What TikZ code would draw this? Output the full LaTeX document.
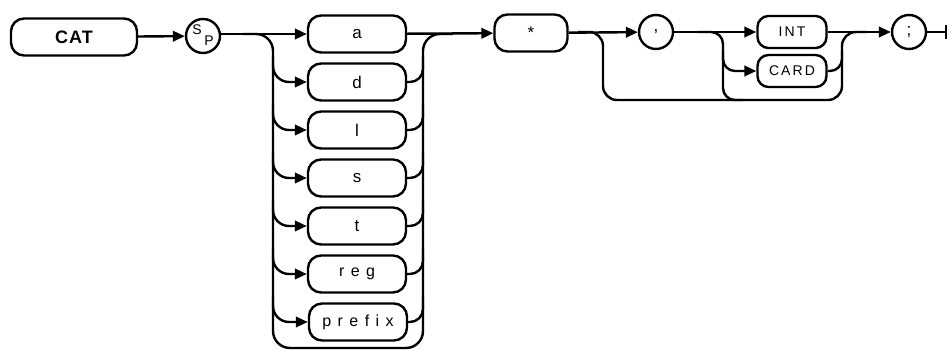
\documentclass[tikz,border=0pt]{standalone}
\usepackage{fontspec}
\setmainfont{Liberation Sans}
\usetikzlibrary{arrows.meta}
\begin{document}
\begin{tikzpicture}[x=1pt,y=-1pt,
  ln/.style={line width=2.4pt},
  arr/.style={ln,-{Triangle[length=12pt,width=10.5pt]}},
  term/.style={draw,ln,rounded corners=13pt,minimum width=98pt,minimum height=37pt,inner sep=0pt,font=\fontsize{17}{17}\selectfont},
  small/.style={draw,ln,rounded corners=11pt,minimum width=69pt,minimum height=32pt,inner sep=0pt,font=\fontsize{14}{14}\selectfont\addfontfeatures{LetterSpace=15}},
  circ/.style={draw,ln,circle,minimum size=34pt,inner sep=0pt,font=\fontsize{17}{17}\selectfont},
  spaced/.style={font=\fontsize{16}{16}\selectfont\addfontfeatures{LetterSpace=40}}
]
\useasboundingbox (0,0) rectangle (950,352);
% nodes
\node[term,minimum width=126pt] (cat) at (74,37) {\fontsize{18}{18}\selectfont\bfseries\addfontfeatures{LetterSpace=6}CAT};
\node[circ] (sp) at (203,36) {};
\node[font=\fontsize{14}{14}\selectfont] (spS) at (197,30) {S};
\node[font=\fontsize{14}{14}\selectfont] (spP) at (209,41) {P};
\node[term] (a) at (357,34) {a};
\node[term] (d) at (357,82) {d};
\node[term] (l) at (357,130) {l};
\node[term] (s) at (357,178) {s};
\node[term] (t) at (357,226) {t};
\node[term,spaced] (reg) at (357,274) {reg};
\node[term,spaced] (prefix) at (358,322) {prefix};
\node[term,minimum width=73pt] (star) at (531,33) {\raisebox{-4pt}{*}};
\node[circ] (comma) at (656,32) {\raisebox{-1pt}{,}};
\node[small] (int) at (792,32) {INT};
\node[small] (card) at (792,71) {CARD};
\node[circ] (semi) at (909,32) {;};
\coordinate (L) at (273,0);
\coordinate (R) at (423,0);
\coordinate (B1) at (603,0);
\coordinate (G) at (723,0);
\coordinate (G2) at (842,0);
\coordinate (bot) at (0,348);
\coordinate (bot2) at (0,100);
\coordinate (endp) at (946,32);
% main line
\draw[arr] (cat) -- (sp);
\draw[arr] (sp.east |- a.west) -- (a);
\draw[arr] (a) -- (star);
\draw[arr] (star) -- (comma);
\draw[arr] (comma) -- (int);
\draw[arr] (int) -- (semi);
\draw[ln] (semi) -- (endp);
\draw[ln] ([yshift=7pt]endp) -- ([yshift=-7pt]endp);
% big loop
\draw[ln,rounded corners=17pt] ([xshift=-30pt]a.west -| L) -- (a.west -| L) -- (bot -| L) -- (bot -| R) -- (a.east -| R) -- ([xshift=30pt]a.east -| R);
\foreach \b in {d,l,s,t,reg,prefix}{
  \draw[arr,rounded corners=16pt] ([yshift=25pt]\b.west -| L) |- (\b.west);
  \draw[ln,rounded corners=13pt] (\b.east) -| ([yshift=25pt]\b.east -| R);
}
% comma bypass
\draw[ln,rounded corners=14pt] ([xshift=-25pt]comma.west -| B1) -- (comma.west -| B1) -- (bot2 -| B1) -- (bot2 -| G2) -- (semi.west -| G2) -- ([xshift=25pt]semi.west -| G2);
\draw[ln,rounded corners=12pt] ([xshift=-25pt]int.west -| G) -- (int.west -| G) -- (bot2 -| G) -- ([xshift=20pt]bot2 -| G);
\draw[arr,rounded corners=12pt] ([yshift=20pt]card.west -| G) |- (card.west);
\draw[ln,rounded corners=12pt] (card.east) -| ([yshift=20pt]card.east -| G2);
\end{tikzpicture}
\end{document}
